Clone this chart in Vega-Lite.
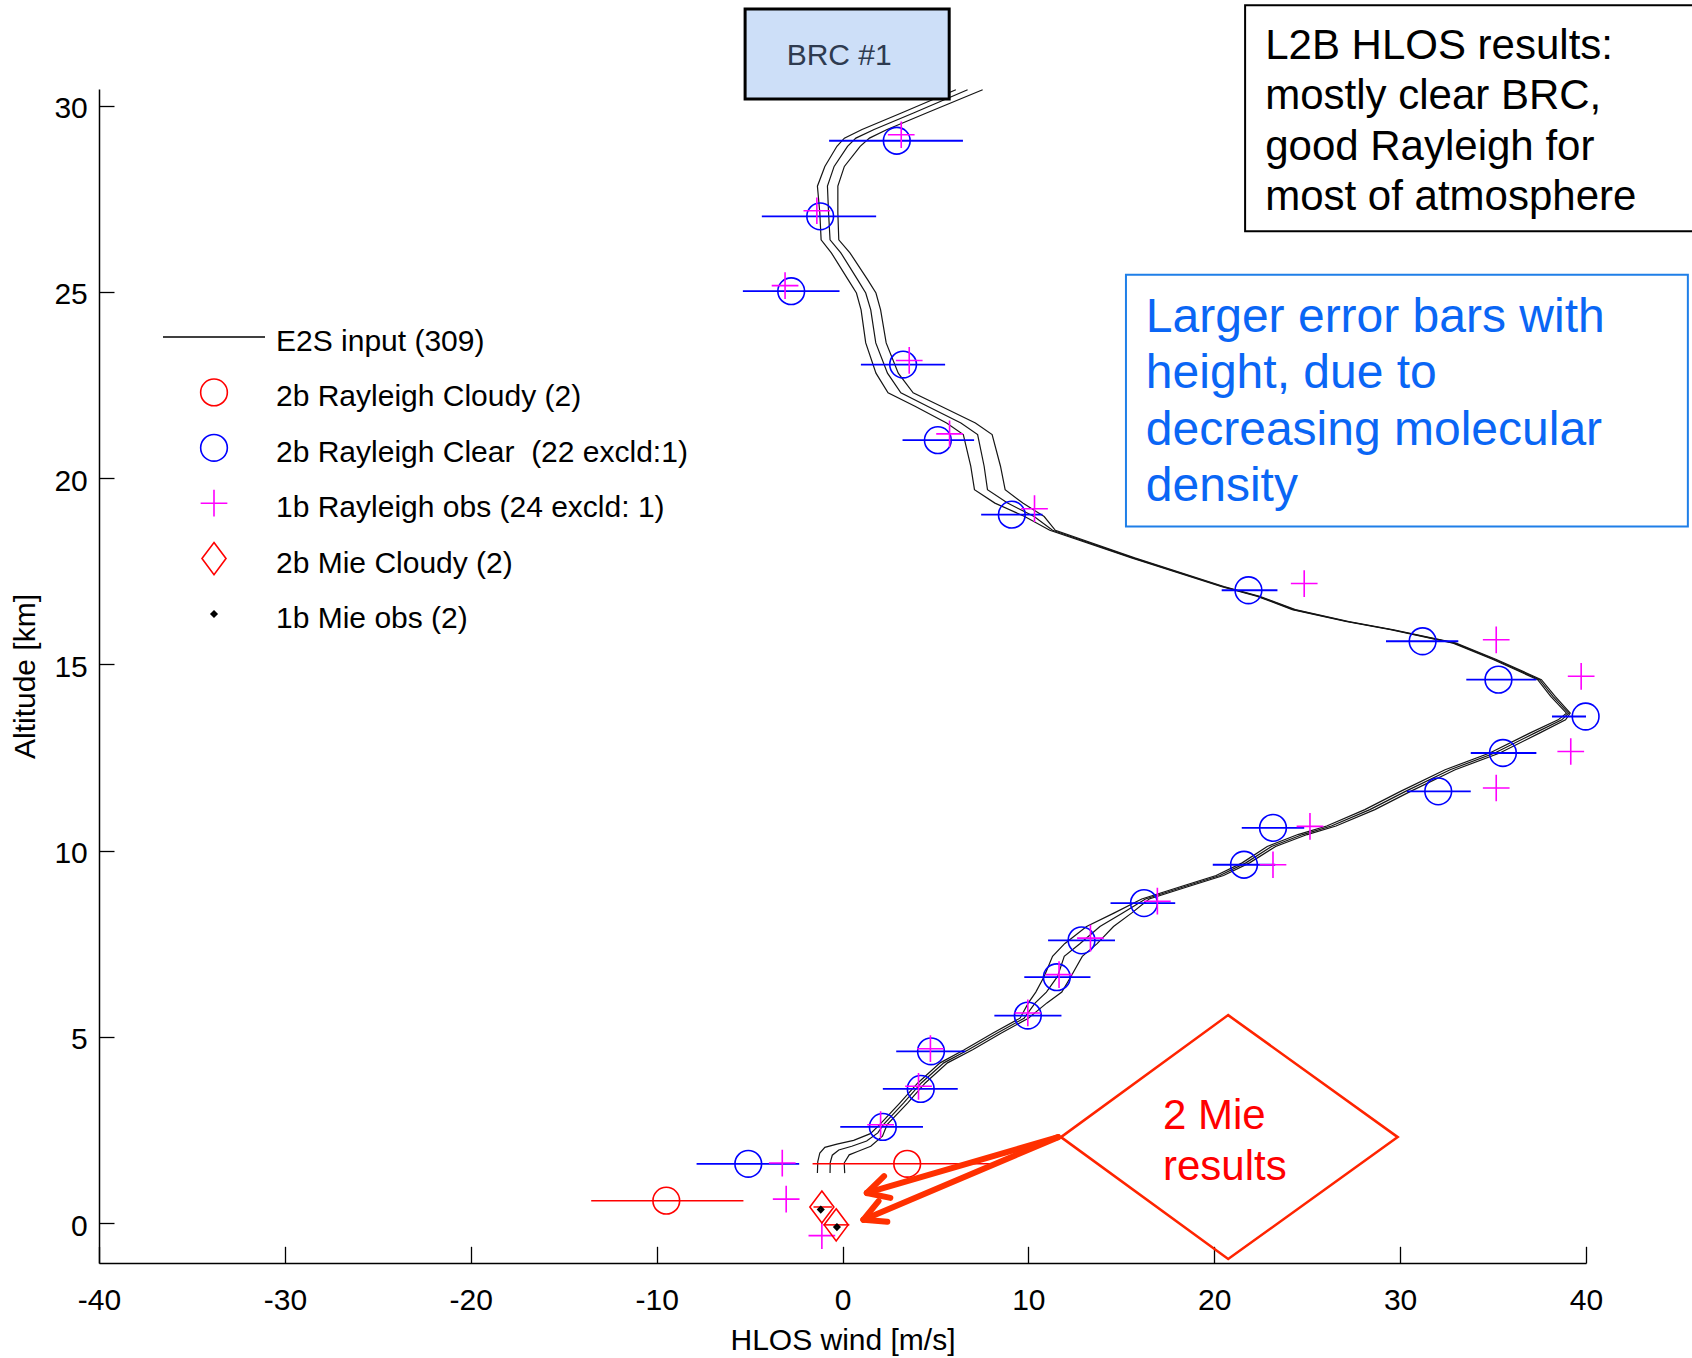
{
  "$schema": "https://vega.github.io/schema/vega-lite/v6.json",
  "width": 1487,
  "height": 1174,
  "autosize": "none",
  "padding": {"left": 99, "top": 89, "right": 106, "bottom": 95},
  "background": "white",
  "config": {
    "font": "Liberation Sans",
    "view": {"stroke": null},
    "axis": {
      "grid": false,
      "domainColor": "#000",
      "domainWidth": 1.5,
      "tickColor": "#000",
      "tickWidth": 1.3,
      "labelColor": "#000",
      "labelFont": "Liberation Sans",
      "labelFontSize": 30,
      "labelFlush": false,
      "labelOverlap": false,
      "labelExpr": "replace(datum.label, '\u2212', '-')",
      "titleFont": "Liberation Sans",
      "titleFontSize": 30,
      "titleFontWeight": "normal",
      "titleColor": "#000"
    },
    "axisX": {"tickSize": -16.7, "labelPadding": 39.5, "titlePadding": 9.4},
    "axisY": {"tickSize": -15, "labelPadding": 26.7, "titlePadding": 13.7, "labelOffset": 3}
  },
  "datasets": {
    "e2s": [
      {"line": "a", "wind": 6.10, "alt": 30.43}, {"line": "a", "wind": 3.20, "alt": 29.81}, {"line": "a", "wind": 1.05, "alt": 29.36},
      {"line": "a", "wind": 0.10, "alt": 29.13}, {"line": "a", "wind": -0.30, "alt": 28.91}, {"line": "a", "wind": -0.95, "alt": 28.37},
      {"line": "a", "wind": -1.35, "alt": 27.84}, {"line": "a", "wind": -1.22, "alt": 27.12}, {"line": "a", "wind": -1.15, "alt": 26.40},
      {"line": "a", "wind": -0.60, "alt": 26.05}, {"line": "a", "wind": 0.30, "alt": 25.33}, {"line": "a", "wind": 0.75, "alt": 24.97},
      {"line": "a", "wind": 1.00, "alt": 24.52}, {"line": "a", "wind": 1.25, "alt": 23.63}, {"line": "a", "wind": 1.80, "alt": 22.82},
      {"line": "a", "wind": 2.45, "alt": 22.29}, {"line": "a", "wind": 3.90, "alt": 21.93}, {"line": "a", "wind": 5.60, "alt": 21.48},
      {"line": "a", "wind": 6.50, "alt": 21.17}, {"line": "a", "wind": 6.90, "alt": 20.32}, {"line": "a", "wind": 7.10, "alt": 19.69},
      {"line": "a", "wind": 8.20, "alt": 19.33}, {"line": "a", "wind": 9.80, "alt": 18.97}, {"line": "a", "wind": 11.15, "alt": 18.60},
      {"line": "a", "wind": 15.55, "alt": 17.86}, {"line": "a", "wind": 20.36, "alt": 17.09}, {"line": "a", "wind": 22.28, "alt": 16.83},
      {"line": "a", "wind": 24.20, "alt": 16.47}, {"line": "a", "wind": 27.08, "alt": 16.15}, {"line": "a", "wind": 29.49, "alt": 15.93},
      {"line": "a", "wind": 32.85, "alt": 15.57}, {"line": "a", "wind": 35.00, "alt": 15.13}, {"line": "a", "wind": 37.40, "alt": 14.59},
      {"line": "a", "wind": 38.10, "alt": 14.14}, {"line": "a", "wind": 38.95, "alt": 13.69}, {"line": "a", "wind": 38.50, "alt": 13.51},
      {"line": "a", "wind": 37.00, "alt": 13.16}, {"line": "a", "wind": 34.82, "alt": 12.62}, {"line": "a", "wind": 32.42, "alt": 12.17},
      {"line": "a", "wind": 30.02, "alt": 11.59}, {"line": "a", "wind": 28.10, "alt": 11.10}, {"line": "a", "wind": 26.05, "alt": 10.66},
      {"line": "a", "wind": 24.50, "alt": 10.43}, {"line": "a", "wind": 22.85, "alt": 10.11}, {"line": "a", "wind": 21.50, "alt": 9.67},
      {"line": "a", "wind": 20.10, "alt": 9.33}, {"line": "a", "wind": 18.30, "alt": 9.05}, {"line": "a", "wind": 16.10, "alt": 8.70},
      {"line": "a", "wind": 14.60, "alt": 8.32}, {"line": "a", "wind": 13.13, "alt": 7.96}, {"line": "a", "wind": 11.95, "alt": 7.50},
      {"line": "a", "wind": 11.30, "alt": 7.16}, {"line": "a", "wind": 10.85, "alt": 6.62}, {"line": "a", "wind": 10.40, "alt": 6.20},
      {"line": "a", "wind": 10.00, "alt": 5.91}, {"line": "a", "wind": 9.55, "alt": 5.50}, {"line": "a", "wind": 8.10, "alt": 5.10},
      {"line": "a", "wind": 6.55, "alt": 4.65}, {"line": "a", "wind": 5.25, "alt": 4.30}, {"line": "a", "wind": 4.05, "alt": 3.76},
      {"line": "a", "wind": 3.08, "alt": 3.22}, {"line": "a", "wind": 2.00, "alt": 2.64}, {"line": "a", "wind": 1.50, "alt": 2.40},
      {"line": "a", "wind": 0.60, "alt": 2.22}, {"line": "a", "wind": -0.30, "alt": 2.12}, {"line": "a", "wind": -0.95, "alt": 2.03},
      {"line": "a", "wind": -1.22, "alt": 1.88}, {"line": "a", "wind": -1.33, "alt": 1.65}, {"line": "a", "wind": -1.35, "alt": 1.34},

      {"line": "b", "wind": 6.73, "alt": 30.43}, {"line": "b", "wind": 3.85, "alt": 29.81}, {"line": "b", "wind": 1.70, "alt": 29.36},
      {"line": "b", "wind": 0.72, "alt": 29.13}, {"line": "b", "wind": 0.27, "alt": 28.91}, {"line": "b", "wind": -0.45, "alt": 28.37},
      {"line": "b", "wind": -0.81, "alt": 27.84}, {"line": "b", "wind": -0.75, "alt": 27.12}, {"line": "b", "wind": -0.67, "alt": 26.40},
      {"line": "b", "wind": -0.09, "alt": 26.05}, {"line": "b", "wind": 0.81, "alt": 25.33}, {"line": "b", "wind": 1.25, "alt": 24.97},
      {"line": "b", "wind": 1.52, "alt": 24.52}, {"line": "b", "wind": 1.79, "alt": 23.63}, {"line": "b", "wind": 2.42, "alt": 22.82},
      {"line": "b", "wind": 3.14, "alt": 22.29}, {"line": "b", "wind": 4.57, "alt": 21.93}, {"line": "b", "wind": 6.37, "alt": 21.48},
      {"line": "b", "wind": 7.27, "alt": 21.17}, {"line": "b", "wind": 7.62, "alt": 20.32}, {"line": "b", "wind": 7.80, "alt": 19.69},
      {"line": "b", "wind": 8.88, "alt": 19.33}, {"line": "b", "wind": 10.31, "alt": 18.97}, {"line": "b", "wind": 11.30, "alt": 18.60},
      {"line": "b", "wind": 15.63, "alt": 17.86}, {"line": "b", "wind": 20.44, "alt": 17.09}, {"line": "b", "wind": 22.36, "alt": 16.83},
      {"line": "b", "wind": 24.28, "alt": 16.47}, {"line": "b", "wind": 27.16, "alt": 16.15}, {"line": "b", "wind": 29.57, "alt": 15.93},
      {"line": "b", "wind": 32.93, "alt": 15.57}, {"line": "b", "wind": 35.09, "alt": 15.13}, {"line": "b", "wind": 37.50, "alt": 14.59},
      {"line": "b", "wind": 38.22, "alt": 14.14}, {"line": "b", "wind": 39.06, "alt": 13.69}, {"line": "b", "wind": 38.70, "alt": 13.51},
      {"line": "b", "wind": 37.26, "alt": 13.16}, {"line": "b", "wind": 35.09, "alt": 12.62}, {"line": "b", "wind": 32.69, "alt": 12.17},
      {"line": "b", "wind": 30.29, "alt": 11.59}, {"line": "b", "wind": 28.37, "alt": 11.10}, {"line": "b", "wind": 26.30, "alt": 10.66},
      {"line": "b", "wind": 24.76, "alt": 10.43}, {"line": "b", "wind": 23.08, "alt": 10.11}, {"line": "b", "wind": 21.70, "alt": 9.67},
      {"line": "b", "wind": 20.30, "alt": 9.33}, {"line": "b", "wind": 18.50, "alt": 9.05}, {"line": "b", "wind": 16.30, "alt": 8.70},
      {"line": "b", "wind": 15.05, "alt": 8.32}, {"line": "b", "wind": 13.85, "alt": 7.96}, {"line": "b", "wind": 12.77, "alt": 7.50},
      {"line": "b", "wind": 11.93, "alt": 7.16}, {"line": "b", "wind": 11.57, "alt": 6.62}, {"line": "b", "wind": 10.97, "alt": 6.20},
      {"line": "b", "wind": 10.37, "alt": 5.91}, {"line": "b", "wind": 9.77, "alt": 5.50}, {"line": "b", "wind": 8.33, "alt": 5.10},
      {"line": "b", "wind": 6.77, "alt": 4.65}, {"line": "b", "wind": 5.45, "alt": 4.30}, {"line": "b", "wind": 4.24, "alt": 3.76},
      {"line": "b", "wind": 3.28, "alt": 3.22}, {"line": "b", "wind": 2.20, "alt": 2.64}, {"line": "b", "wind": 1.90, "alt": 2.42},
      {"line": "b", "wind": 1.30, "alt": 2.20}, {"line": "b", "wind": 0.50, "alt": 2.06}, {"line": "b", "wind": -0.20, "alt": 1.96},
      {"line": "b", "wind": -0.55, "alt": 1.82}, {"line": "b", "wind": -0.66, "alt": 1.62}, {"line": "b", "wind": -0.67, "alt": 1.34},

      {"line": "c", "wind": 7.54, "alt": 30.43}, {"line": "c", "wind": 4.55, "alt": 29.81}, {"line": "c", "wind": 2.40, "alt": 29.36},
      {"line": "c", "wind": 1.45, "alt": 29.13}, {"line": "c", "wind": 0.95, "alt": 28.91}, {"line": "c", "wind": 0.10, "alt": 28.37},
      {"line": "c", "wind": -0.25, "alt": 27.84}, {"line": "c", "wind": -0.25, "alt": 27.12}, {"line": "c", "wind": -0.20, "alt": 26.40},
      {"line": "c", "wind": 0.40, "alt": 26.05}, {"line": "c", "wind": 1.35, "alt": 25.33}, {"line": "c", "wind": 1.80, "alt": 24.97},
      {"line": "c", "wind": 2.05, "alt": 24.52}, {"line": "c", "wind": 2.35, "alt": 23.63}, {"line": "c", "wind": 3.00, "alt": 22.82},
      {"line": "c", "wind": 3.80, "alt": 22.29}, {"line": "c", "wind": 5.30, "alt": 21.93}, {"line": "c", "wind": 7.15, "alt": 21.48},
      {"line": "c", "wind": 8.05, "alt": 21.17}, {"line": "c", "wind": 8.50, "alt": 20.32}, {"line": "c", "wind": 8.75, "alt": 19.69},
      {"line": "c", "wind": 9.70, "alt": 19.33}, {"line": "c", "wind": 10.85, "alt": 18.97}, {"line": "c", "wind": 11.45, "alt": 18.60},
      {"line": "c", "wind": 15.72, "alt": 17.86}, {"line": "c", "wind": 20.52, "alt": 17.09}, {"line": "c", "wind": 22.44, "alt": 16.83},
      {"line": "c", "wind": 24.36, "alt": 16.47}, {"line": "c", "wind": 27.24, "alt": 16.15}, {"line": "c", "wind": 29.65, "alt": 15.93},
      {"line": "c", "wind": 33.01, "alt": 15.57}, {"line": "c", "wind": 35.18, "alt": 15.13}, {"line": "c", "wind": 37.60, "alt": 14.59},
      {"line": "c", "wind": 38.34, "alt": 14.14}, {"line": "c", "wind": 39.15, "alt": 13.69}, {"line": "c", "wind": 38.90, "alt": 13.51},
      {"line": "c", "wind": 37.52, "alt": 13.16}, {"line": "c", "wind": 35.36, "alt": 12.62}, {"line": "c", "wind": 32.96, "alt": 12.17},
      {"line": "c", "wind": 30.56, "alt": 11.59}, {"line": "c", "wind": 28.64, "alt": 11.10}, {"line": "c", "wind": 26.55, "alt": 10.66},
      {"line": "c", "wind": 25.00, "alt": 10.43}, {"line": "c", "wind": 23.30, "alt": 10.11}, {"line": "c", "wind": 21.90, "alt": 9.67},
      {"line": "c", "wind": 20.50, "alt": 9.33}, {"line": "c", "wind": 18.70, "alt": 9.05}, {"line": "c", "wind": 16.50, "alt": 8.70},
      {"line": "c", "wind": 15.55, "alt": 8.32}, {"line": "c", "wind": 14.58, "alt": 7.96}, {"line": "c", "wind": 13.70, "alt": 7.50},
      {"line": "c", "wind": 12.90, "alt": 7.16}, {"line": "c", "wind": 12.29, "alt": 6.62}, {"line": "c", "wind": 11.80, "alt": 6.20},
      {"line": "c", "wind": 11.00, "alt": 5.91}, {"line": "c", "wind": 10.00, "alt": 5.50}, {"line": "c", "wind": 8.55, "alt": 5.10},
      {"line": "c", "wind": 7.00, "alt": 4.65}, {"line": "c", "wind": 5.65, "alt": 4.30}, {"line": "c", "wind": 4.45, "alt": 3.76},
      {"line": "c", "wind": 3.50, "alt": 3.22}, {"line": "c", "wind": 2.40, "alt": 2.64}, {"line": "c", "wind": 2.15, "alt": 2.33},
      {"line": "c", "wind": 1.52, "alt": 2.06}, {"line": "c", "wind": 0.81, "alt": 1.92}, {"line": "c", "wind": 0.36, "alt": 1.83},
      {"line": "c", "wind": 0.09, "alt": 1.61}, {"line": "c", "wind": 0.12, "alt": 1.34}
    ],
    "obs": [
      {"series": "2b Rayleigh Cloudy (2)", "wind": 3.48, "alt": 1.59, "lo": -1.61, "hi": 8.0},
      {"series": "2b Rayleigh Cloudy (2)", "wind": -9.48, "alt": 0.60, "lo": -13.52, "hi": -5.33},

      {"series": "2b Rayleigh Clear \u00a0(22 excld:1)", "wind": 2.92, "alt": 29.06, "lo": -0.72, "hi": 6.48},
      {"series": "2b Rayleigh Clear \u00a0(22 excld:1)", "wind": -1.20, "alt": 27.03, "lo": -4.34, "hi": 1.81},
      {"series": "2b Rayleigh Clear \u00a0(22 excld:1)", "wind": -2.76, "alt": 25.02, "lo": -5.36, "hi": -0.16},
      {"series": "2b Rayleigh Clear \u00a0(22 excld:1)", "wind": 3.26, "alt": 23.05, "lo": 0.99, "hi": 5.52},
      {"series": "2b Rayleigh Clear \u00a0(22 excld:1)", "wind": 5.13, "alt": 21.02, "lo": 3.23, "hi": 7.08},
      {"series": "2b Rayleigh Clear \u00a0(22 excld:1)", "wind": 9.11, "alt": 19.02, "lo": 7.46, "hi": 10.76},
      {"series": "2b Rayleigh Clear \u00a0(22 excld:1)", "wind": 21.84, "alt": 16.99, "lo": 20.40, "hi": 23.40},
      {"series": "2b Rayleigh Clear \u00a0(22 excld:1)", "wind": 31.21, "alt": 15.62, "lo": 29.24, "hi": 33.13},
      {"series": "2b Rayleigh Clear \u00a0(22 excld:1)", "wind": 35.29, "alt": 14.59, "lo": 33.56, "hi": 37.33},
      {"series": "2b Rayleigh Clear \u00a0(22 excld:1)", "wind": 39.98, "alt": 13.60, "lo": 38.17, "hi": 41.80},
      {"series": "2b Rayleigh Clear \u00a0(22 excld:1)", "wind": 35.53, "alt": 12.62, "lo": 33.80, "hi": 37.33},
      {"series": "2b Rayleigh Clear \u00a0(22 excld:1)", "wind": 32.05, "alt": 11.59, "lo": 30.37, "hi": 33.80},
      {"series": "2b Rayleigh Clear \u00a0(22 excld:1)", "wind": 23.16, "alt": 10.61, "lo": 21.48, "hi": 24.84},
      {"series": "2b Rayleigh Clear \u00a0(22 excld:1)", "wind": 21.60, "alt": 9.62, "lo": 19.92, "hi": 23.28},
      {"series": "2b Rayleigh Clear \u00a0(22 excld:1)", "wind": 16.22, "alt": 8.59, "lo": 14.42, "hi": 17.90},
      {"series": "2b Rayleigh Clear \u00a0(22 excld:1)", "wind": 12.86, "alt": 7.59, "lo": 11.06, "hi": 14.66},
      {"series": "2b Rayleigh Clear \u00a0(22 excld:1)", "wind": 11.53, "alt": 6.60, "lo": 9.78, "hi": 13.34},
      {"series": "2b Rayleigh Clear \u00a0(22 excld:1)", "wind": 9.97, "alt": 5.57, "lo": 8.17, "hi": 11.78},
      {"series": "2b Rayleigh Clear \u00a0(22 excld:1)", "wind": 4.76, "alt": 4.61, "lo": 2.89, "hi": 6.61},
      {"series": "2b Rayleigh Clear \u00a0(22 excld:1)", "wind": 4.21, "alt": 3.60, "lo": 2.17, "hi": 6.20},
      {"series": "2b Rayleigh Clear \u00a0(22 excld:1)", "wind": 2.17, "alt": 2.58, "lo": -0.12, "hi": 4.33},
      {"series": "2b Rayleigh Clear \u00a0(22 excld:1)", "wind": -5.07, "alt": 1.59, "lo": -7.85, "hi": -2.33},

      {"series": "1b Rayleigh obs (24 excld: 1)", "wind": 3.16, "alt": 29.22},
      {"series": "1b Rayleigh obs (24 excld: 1)", "wind": -1.38, "alt": 27.18},
      {"series": "1b Rayleigh obs (24 excld: 1)", "wind": -3.09, "alt": 25.17},
      {"series": "1b Rayleigh obs (24 excld: 1)", "wind": 3.59, "alt": 23.16},
      {"series": "1b Rayleigh obs (24 excld: 1)", "wind": 5.76, "alt": 21.19},
      {"series": "1b Rayleigh obs (24 excld: 1)", "wind": 10.33, "alt": 19.18},
      {"series": "1b Rayleigh obs (24 excld: 1)", "wind": 24.84, "alt": 17.17},
      {"series": "1b Rayleigh obs (24 excld: 1)", "wind": 35.17, "alt": 15.66},
      {"series": "1b Rayleigh obs (24 excld: 1)", "wind": 39.74, "alt": 14.68},
      {"series": "1b Rayleigh obs (24 excld: 1)", "wind": 39.18, "alt": 12.66},
      {"series": "1b Rayleigh obs (24 excld: 1)", "wind": 35.17, "alt": 11.68},
      {"series": "1b Rayleigh obs (24 excld: 1)", "wind": 25.15, "alt": 10.65},
      {"series": "1b Rayleigh obs (24 excld: 1)", "wind": 23.16, "alt": 9.62},
      {"series": "1b Rayleigh obs (24 excld: 1)", "wind": 16.94, "alt": 8.64},
      {"series": "1b Rayleigh obs (24 excld: 1)", "wind": 13.34, "alt": 7.65},
      {"series": "1b Rayleigh obs (24 excld: 1)", "wind": 11.65, "alt": 6.67},
      {"series": "1b Rayleigh obs (24 excld: 1)", "wind": 9.97, "alt": 5.64},
      {"series": "1b Rayleigh obs (24 excld: 1)", "wind": 4.73, "alt": 4.68},
      {"series": "1b Rayleigh obs (24 excld: 1)", "wind": 4.09, "alt": 3.67},
      {"series": "1b Rayleigh obs (24 excld: 1)", "wind": 2.05, "alt": 2.64},
      {"series": "1b Rayleigh obs (24 excld: 1)", "wind": -3.24, "alt": 1.61},
      {"series": "1b Rayleigh obs (24 excld: 1)", "wind": -3.03, "alt": 0.64},
      {"series": "1b Rayleigh obs (24 excld: 1)", "wind": -1.11, "alt": -0.34},

      {"series": "2b Mie Cloudy (2)", "wind": -1.11, "alt": 0.43, "lo": -1.56, "hi": -0.57},
      {"series": "2b Mie Cloudy (2)", "wind": -0.34, "alt": -0.05, "lo": -1.03, "hi": 0.37},

      {"series": "1b Mie obs (2)", "wind": -1.17, "alt": 0.36},
      {"series": "1b Mie obs (2)", "wind": -0.30, "alt": -0.11}
    ]
  },
  "layer": [
    {
      "data": {"name": "e2s"},
      "mark": {"type": "line", "color": "#151515", "strokeWidth": 1.2},
      "encoding": {
        "x": {"field": "wind", "type": "quantitative", "title": "HLOS wind [m/s]",
              "scale": {"domain": [-40, 40], "nice": false, "zero": false},
              "axis": {"values": [-40, -30, -20, -10, 0, 10, 20, 30, 40]}},
        "y": {"field": "alt", "type": "quantitative", "title": "Altitude [km]",
              "scale": {"domain": [-1.074, 30.449], "nice": false, "zero": false},
              "axis": {"values": [0, 5, 10, 15, 20, 25, 30]}},
        "detail": {"field": "line"},
        "order": {"field": "alt", "type": "quantitative", "sort": "descending"}
      }
    },
    {
      "data": {"name": "obs"},
      "transform": [{"filter": "datum.series === '2b Rayleigh Clear \u00a0(22 excld:1)'"}],
      "mark": {"type": "rule", "color": "#0000ff", "strokeWidth": 1.8, "clip": true},
      "encoding": {
        "x": {"field": "lo", "type": "quantitative", "title": "HLOS wind [m/s]",
              "scale": {"domain": [-40, 40], "nice": false, "zero": false}},
        "x2": {"field": "hi"},
        "y": {"field": "alt", "type": "quantitative", "title": "Altitude [km]",
              "scale": {"domain": [-1.074, 30.449], "nice": false, "zero": false}}
      }
    },
    {
      "data": {"name": "obs"},
      "transform": [{"filter": "isValid(datum.lo) && datum.series !== '2b Rayleigh Clear \u00a0(22 excld:1)'"}],
      "mark": {"type": "rule", "color": "#ff0000", "strokeWidth": 1.5, "clip": true},
      "encoding": {
        "x": {"field": "lo", "type": "quantitative", "title": "HLOS wind [m/s]",
              "scale": {"domain": [-40, 40], "nice": false, "zero": false}},
        "x2": {"field": "hi"},
        "y": {"field": "alt", "type": "quantitative", "title": "Altitude [km]",
              "scale": {"domain": [-1.074, 30.449], "nice": false, "zero": false}}
      }
    },
    {
      "data": {"name": "obs"},
      "mark": {"type": "point", "filled": false, "strokeWidth": 1.6, "opacity": 1, "size": 713},
      "encoding": {
        "x": {"field": "wind", "type": "quantitative", "title": "HLOS wind [m/s]",
              "scale": {"domain": [-40, 40], "nice": false, "zero": false}},
        "y": {"field": "alt", "type": "quantitative", "title": "Altitude [km]",
              "scale": {"domain": [-1.074, 30.449], "nice": false, "zero": false}},
        "color": {"field": "series", "type": "nominal",
                  "scale": {"domain": ["E2S input (309)", "2b Rayleigh Cloudy (2)", "2b Rayleigh Clear \u00a0(22 excld:1)", "1b Rayleigh obs (24 excld: 1)", "2b Mie Cloudy (2)", "1b Mie obs (2)"],
                            "range": ["#000000", "#ff0000", "#0000ff", "#ff00ff", "#ff0000", "#000000"]},
                  "legend": {"orient": "none", "legendX": 100, "legendY": 233, "title": null, "padding": 0, "gridAlign": "all",
                             "labelFont": "Liberation Sans", "labelFontSize": 30, "labelColor": "#000", "labelLimit": 1000,
                             "labelOffset": 47, "symbolSize": 713, "symbolStrokeWidth": 1.6, "symbolOpacity": 1, "rowPadding": 15.4,
                             "encoding": {"labels": {"dy": {"value": 5}}}}},
        "shape": {"field": "series", "type": "nominal",
                  "scale": {"domain": ["E2S input (309)", "2b Rayleigh Cloudy (2)", "2b Rayleigh Clear \u00a0(22 excld:1)", "1b Rayleigh obs (24 excld: 1)", "2b Mie Cloudy (2)", "1b Mie obs (2)"],
                            "range": ["M-3.82,0H3.82", "circle", "circle", "M-1,0H1M0,-1V1", "M0,-1.2L0.9,0L0,1.2L-0.9,0Z", "M0,-0.22L0.22,0L0,0.22L-0.22,0ZM0,-0.1L0.1,0L0,0.1L-0.1,0Z"]},
                  "legend": {"orient": "none", "legendX": 100, "legendY": 233, "title": null, "padding": 0, "gridAlign": "all",
                             "labelFont": "Liberation Sans", "labelFontSize": 30, "labelColor": "#000", "labelLimit": 1000,
                             "labelOffset": 47, "symbolSize": 713, "symbolStrokeWidth": 1.6, "symbolOpacity": 1, "rowPadding": 15.4,
                             "encoding": {"labels": {"dy": {"value": 5}}}}}
      }
    },
    {
      "data": {"values": [{"wind": -5.24, "wind2": 5.74, "alt": 32.60, "alt2": 30.18}]},
      "mark": {"type": "rect", "fill": "#cddff8", "stroke": "#000", "strokeWidth": 3},
      "encoding": {
        "x": {"field": "wind", "type": "quantitative", "title": "HLOS wind [m/s]", "scale": {"domain": [-40, 40], "nice": false, "zero": false}},
        "x2": {"field": "wind2"},
        "y": {"field": "alt", "type": "quantitative", "title": "Altitude [km]", "scale": {"domain": [-1.074, 30.449], "nice": false, "zero": false}},
        "y2": {"field": "alt2"}
      }
    },
    {
      "data": {"values": [{"wind": -0.18, "alt": 31.34, "label": "BRC #1"}]},
      "mark": {"type": "text", "font": "Liberation Sans", "fontSize": 30, "color": "#2e3b50", "align": "center", "baseline": "middle"},
      "encoding": {
        "x": {"field": "wind", "type": "quantitative", "title": "HLOS wind [m/s]", "scale": {"domain": [-40, 40], "nice": false, "zero": false}},
        "y": {"field": "alt", "type": "quantitative", "title": "Altitude [km]", "scale": {"domain": [-1.074, 30.449], "nice": false, "zero": false}},
        "text": {"field": "label", "type": "nominal"}
      }
    },
    {
      "data": {"values": [{"wind": 21.66, "wind2": 46.5, "alt": 32.70, "alt2": 26.63}]},
      "mark": {"type": "rect", "fill": "white", "stroke": "#000", "strokeWidth": 2},
      "encoding": {
        "x": {"field": "wind", "type": "quantitative", "title": "HLOS wind [m/s]", "scale": {"domain": [-40, 40], "nice": false, "zero": false}},
        "x2": {"field": "wind2"},
        "y": {"field": "alt", "type": "quantitative", "title": "Altitude [km]", "scale": {"domain": [-1.074, 30.449], "nice": false, "zero": false}},
        "y2": {"field": "alt2"}
      }
    },
    {
      "data": {"values": [{"wind": 22.74, "alt": 32.15, "label": "L2B HLOS results:\nmostly clear BRC,\ngood Rayleigh for\nmost of atmosphere"}]},
      "mark": {"type": "text", "font": "Liberation Sans", "fontSize": 42, "color": "#000", "align": "left", "baseline": "top", "lineBreak": "\n", "lineHeight": 50.6},
      "encoding": {
        "x": {"field": "wind", "type": "quantitative", "title": "HLOS wind [m/s]", "scale": {"domain": [-40, 40], "nice": false, "zero": false}},
        "y": {"field": "alt", "type": "quantitative", "title": "Altitude [km]", "scale": {"domain": [-1.074, 30.449], "nice": false, "zero": false}},
        "text": {"field": "label", "type": "nominal"}
      }
    },
    {
      "data": {"values": [{"wind": 15.25, "wind2": 45.48, "alt": 25.46, "alt2": 18.70}]},
      "mark": {"type": "rect", "fill": "white", "stroke": "#1f7fe8", "strokeWidth": 2},
      "encoding": {
        "x": {"field": "wind", "type": "quantitative", "title": "HLOS wind [m/s]", "scale": {"domain": [-40, 40], "nice": false, "zero": false}},
        "x2": {"field": "wind2"},
        "y": {"field": "alt", "type": "quantitative", "title": "Altitude [km]", "scale": {"domain": [-1.074, 30.449], "nice": false, "zero": false}},
        "y2": {"field": "alt2"}
      }
    },
    {
      "data": {"values": [{"wind": 16.32, "alt": 24.95, "label": "Larger error bars with\nheight, due to\ndecreasing molecular\ndensity"}]},
      "mark": {"type": "text", "font": "Liberation Sans", "fontSize": 48, "color": "#0a66f5", "align": "left", "baseline": "top", "lineBreak": "\n", "lineHeight": 56.5},
      "encoding": {
        "x": {"field": "wind", "type": "quantitative", "title": "HLOS wind [m/s]", "scale": {"domain": [-40, 40], "nice": false, "zero": false}},
        "y": {"field": "alt", "type": "quantitative", "title": "Altitude [km]", "scale": {"domain": [-1.074, 30.449], "nice": false, "zero": false}},
        "text": {"field": "label", "type": "nominal"}
      }
    },
    {
      "data": {"values": [
        {"k": 0, "wind": 11.755, "alt": 2.306},
        {"k": 1, "wind": 20.75, "alt": 5.582},
        {"k": 2, "wind": 29.87, "alt": 2.306},
        {"k": 3, "wind": 20.75, "alt": -0.967},
        {"k": 4, "wind": 11.755, "alt": 2.306}
      ]},
      "mark": {"type": "line", "color": "#ff2400", "strokeWidth": 2.5, "strokeJoin": "miter"},
      "encoding": {
        "x": {"field": "wind", "type": "quantitative", "title": "HLOS wind [m/s]", "scale": {"domain": [-40, 40], "nice": false, "zero": false}},
        "y": {"field": "alt", "type": "quantitative", "title": "Altitude [km]", "scale": {"domain": [-1.074, 30.449], "nice": false, "zero": false}},
        "order": {"field": "k", "type": "quantitative"}
      }
    },
    {
      "data": {"values": [{"wind": 17.24, "alt": 3.405, "label": "2 Mie\nresults"}]},
      "mark": {"type": "text", "font": "Liberation Sans", "fontSize": 42, "color": "#ff0000", "align": "left", "baseline": "top", "lineBreak": "\n", "lineHeight": 50.5},
      "encoding": {
        "x": {"field": "wind", "type": "quantitative", "title": "HLOS wind [m/s]", "scale": {"domain": [-40, 40], "nice": false, "zero": false}},
        "y": {"field": "alt", "type": "quantitative", "title": "Altitude [km]", "scale": {"domain": [-1.074, 30.449], "nice": false, "zero": false}},
        "text": {"field": "label", "type": "nominal"}
      }
    },
    {
      "data": {"values": [
        {"wind": 11.60, "alt": 2.306, "wind2": 1.310, "alt2": 0.806},
        {"wind": 1.310, "alt": 0.806, "wind2": 2.575, "alt2": 0.674},
        {"wind": 1.310, "alt": 0.806, "wind2": 2.236, "alt2": 1.257},
        {"wind": 11.60, "alt": 2.306, "wind2": 1.127, "alt2": 0.089},
        {"wind": 1.127, "alt": 0.089, "wind2": 2.413, "alt2": 0.032},
        {"wind": 1.127, "alt": 0.089, "wind2": 1.940, "alt2": 0.588}
      ]},
      "mark": {"type": "rule", "color": "#ff3000", "strokeWidth": 6, "strokeCap": "round"},
      "encoding": {
        "x": {"field": "wind", "type": "quantitative", "title": "HLOS wind [m/s]", "scale": {"domain": [-40, 40], "nice": false, "zero": false}},
        "y": {"field": "alt", "type": "quantitative", "title": "Altitude [km]", "scale": {"domain": [-1.074, 30.449], "nice": false, "zero": false}},
        "x2": {"field": "wind2"},
        "y2": {"field": "alt2"}
      }
    }
  ]
}
